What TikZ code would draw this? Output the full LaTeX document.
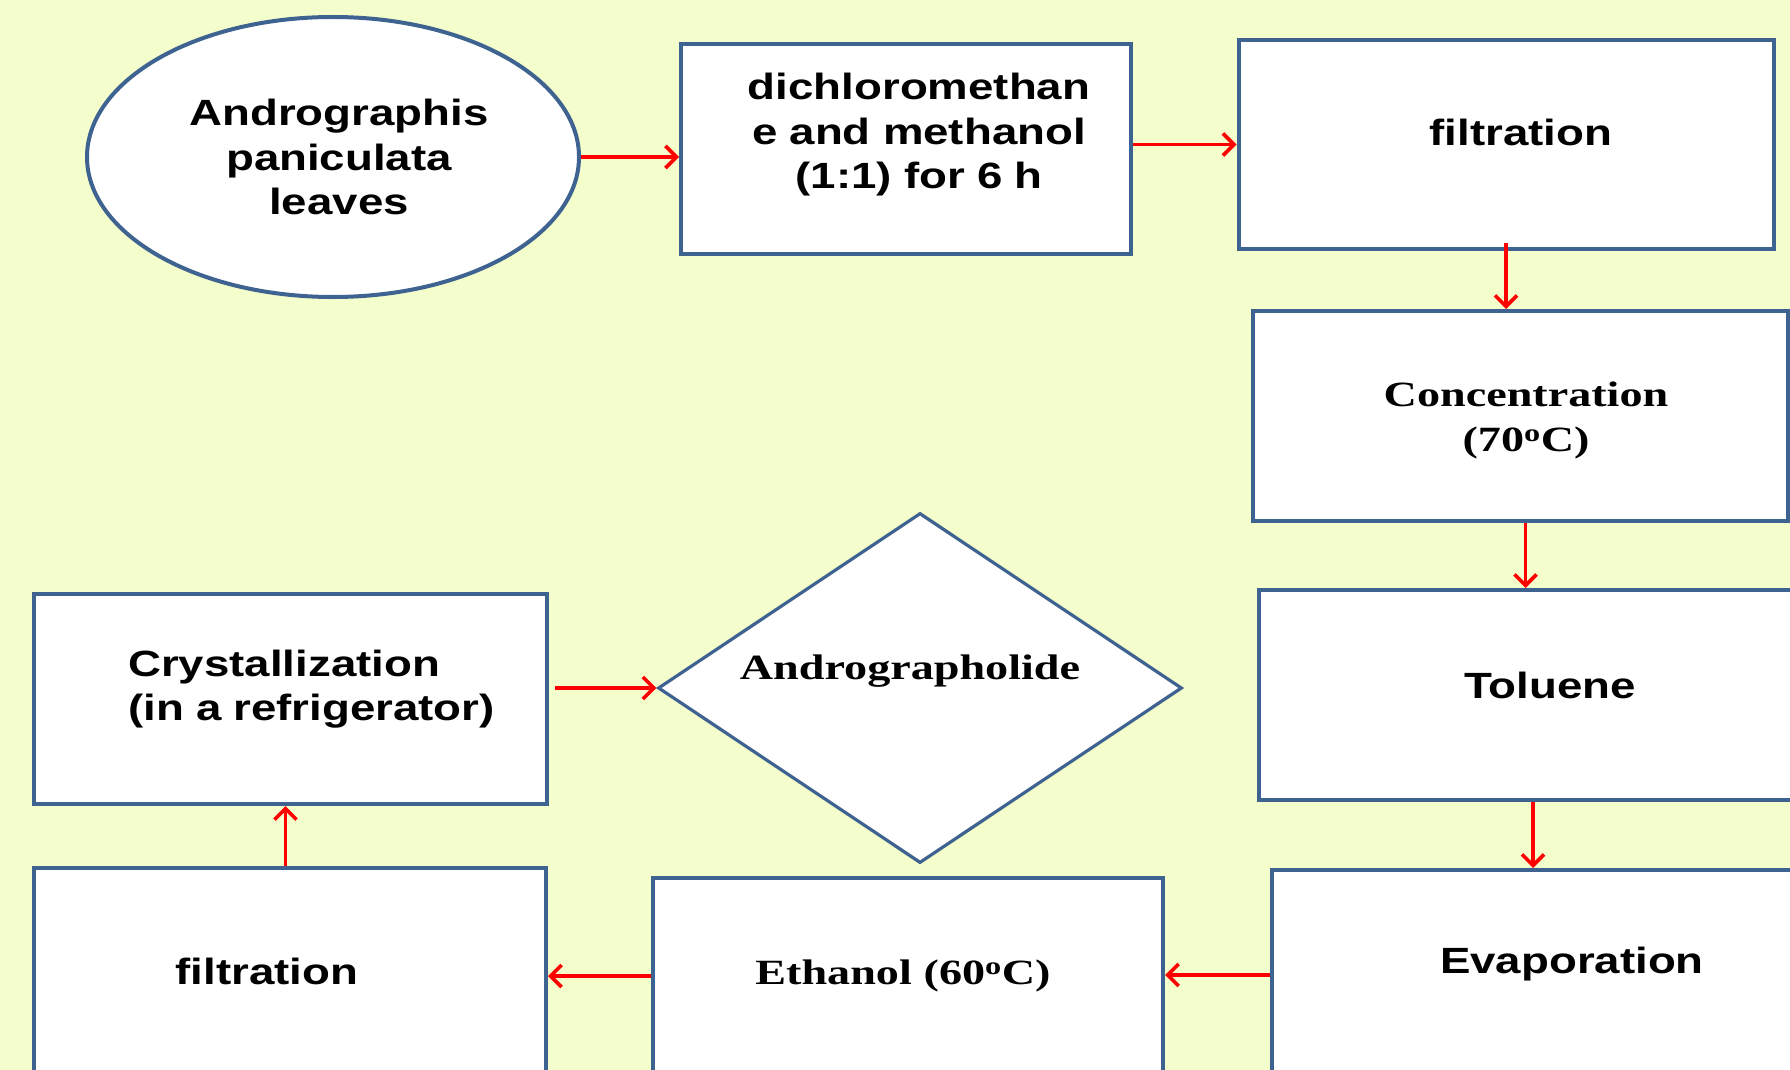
\documentclass[tikz,border=0pt]{standalone}
\usepackage{fontspec}
\setmainfont{Liberation Sans}
\newfontfamily\sansx{Liberation Sans}[FakeStretch=1.25]
\newfontfamily\serifx{Liberation Serif}[FakeStretch=1.30]
\usetikzlibrary{shapes.geometric,arrows.meta}
\definecolor{bgc}{HTML}{F4FDCC}
\definecolor{bord}{HTML}{3F6391}
\definecolor{arrred}{HTML}{FF0000}
\begin{document}
\begin{tikzpicture}[x=1pt,y=-1pt,
  shapebox/.style={draw=bord,line width=4pt,fill=white,inner sep=0pt},
  rbox/.style={shapebox,rectangle},
  atext/.style={inner sep=0pt,anchor=base,text width=520pt,align=center,
    font=\sansx\bfseries\fontsize{36.5}{44.5}\selectfont},
  ttext/.style={inner sep=0pt,anchor=base,text width=520pt,align=center,
    font=\serifx\bfseries\fontsize{35.5}{44.5}\selectfont},
  arr/.style={draw=arrred,line width=3.6pt,-{Straight Barb[length=11pt,width=22pt,line width=3.6pt]}}]
\useasboundingbox (0,0) rectangle (1790,1070);
\fill[bgc] (0,0) rectangle (1790,1070);
\clip (0,0) rectangle (1790,1070);

% shapes
\node[shapebox,ellipse,minimum width=492pt,minimum height=280pt] (ell) at (333,157) {};
\node[rbox,minimum width=450pt,minimum height=210pt] (box1) at (906,149) {};
\node[rbox,minimum width=535pt,minimum height=209pt] (box2) at (1506,144.5) {};
\node[rbox,minimum width=535pt,minimum height=210pt] (conc) at (1520.5,416) {};
\node[rbox,minimum width=537pt,minimum height=210pt] (tol) at (1527.5,695) {};
\node[rbox,minimum width=528pt,minimum height=210pt] (evap) at (1536,975) {};
\node[rbox,minimum width=510pt,minimum height=196pt] (eth) at (908,976) {};
\node[rbox,minimum width=512pt,minimum height=210pt] (filt2) at (290,973) {};
\node[rbox,minimum width=513pt,minimum height=210pt] (cryst) at (290.5,699) {};
\node[shapebox,diamond,minimum width=524pt,minimum height=350pt,line width=3.2pt] (dia) at (920,688) {};

% texts
\node[atext] (tell) at (339,125.5) {Andrographis\\paniculata\\leaves};
\node[atext] (tbox1) at (919,99.5) {dichloromethan\\e and methanol\\(1:1) for 6 h};
\node[atext] (tbox2) at (1521,145.5) {filtration};
\node[ttext] (tconc) at (1526,406.5) {Concentration\\(70\textsuperscript{o}C)};
\node[atext] (ttol) at (1550,698) {Toluene};
\node[atext] (tevap) at (1572,973) {Evaporation};
\node[ttext] (teth) at (903,984) {Ethanol (60\textsuperscript{o}C)};
\node[atext] (tfilt2) at (267,984.5) {filtration};
\node[atext,text width=400pt,align=left,anchor=base west] (tcryst) at (128,676) {Crystallization\\(in a refrigerator)};
\node[ttext] (tdia) at (910,679) {Andrographolide};

% connectors
\draw[arr] (ell.east) -- (ell.east -| box1.west);
\draw[arr] (box1.east |- box2.west) -- (box2.west);
\draw[arr] ([yshift=8pt]box2.south) -- (box2.south |- conc.north);
\draw[arr] ([xshift=5pt]conc.south) -- ([xshift=5pt]conc.south |- tol.north);
\draw[arr] ([xshift=-3pt]evap.north |- tol.south) -- ([xshift=-3pt]evap.north);
\draw[arr] (evap.west) -- (evap.west -| eth.east);
\draw[arr] (eth.west) -- (eth.west -| filt2.east);
\draw[arr] ([xshift=-4.5pt]filt2.north) -- ([xshift=-4.5pt]filt2.north |- cryst.south);
\draw[arr] ([xshift=6pt]dia.west -| cryst.east) -- (dia.west);
\end{tikzpicture}
\end{document}
